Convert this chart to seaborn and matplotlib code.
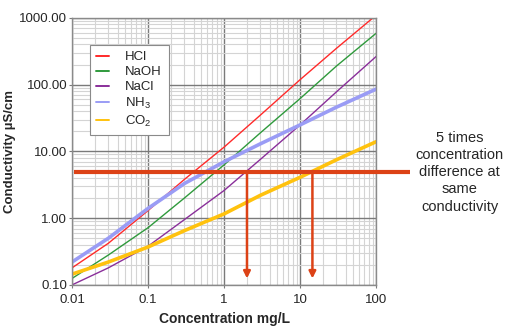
import matplotlib
matplotlib.use("Agg")
import matplotlib.pyplot as plt
import numpy as np
import pandas as pd
import seaborn as sns
from matplotlib.ticker import FixedLocator, FixedFormatter, LogLocator, NullFormatter

# concentration (mg/L) and conductivity (uS/cm)
conc = [0.01, 0.03, 0.1, 0.3, 1, 3, 10, 30, 100]
hcl = [0.18, 0.42, 1.3, 3.8, 11.6, 35, 119, 350, 1100]
naoh = [0.125, 0.28, 0.72, 2.0, 6.3, 19, 62, 190, 590]
nacl = [0.10, 0.18, 0.38, 0.95, 2.6, 7.6, 25, 78, 265]
nh3 = [0.22, 0.5, 1.4, 3.3, 7.0, 13, 25, 46, 86]
co2 = [0.145, 0.22, 0.37, 0.65, 1.16, 2.2, 4.1, 7.5, 14]

series_names = ["HCl", "NaOH", "NaCl", "NH$_3$", "CO$_2$"]
series_vals = [hcl, naoh, nacl, nh3, co2]
series_colors = ["#ff2a2a", "#2f9a3c", "#8a2f9a", "#9a9cf5", "#ffc20e"]
series_widths = [1.0, 1.0, 1.0, 2.6, 2.6]

# the annotation: equal conductivity, two concentrations
same_cond = 5.0
cond_line_x = [0.0105, 280]
arrow_x = [2.0, 14.5]
arrow_bottom = 0.125

x_ticks = [0.01, 0.1, 1, 10, 100]
x_labels = ["0.01", "0.1", "1", "10", "100"]
y_ticks = [0.1, 1, 10, 100, 1000]
y_labels = ["0.10", "1.00", "10.00", "100.00", "1000.00"]

sns.set_style("white")
plt.rcParams["font.family"] = ["Liberation Sans", "DejaVu Sans"]
plt.rcParams["mathtext.fontset"] = "custom"
plt.rcParams["mathtext.rm"] = "Liberation Sans"
plt.rcParams["mathtext.default"] = "regular"

fig = plt.figure(figsize=(5.07, 3.26), dpi=100)
ax = fig.add_axes([0.142, 0.126, 0.600, 0.819])

for name, vals, col, lw in zip(series_names, series_vals, series_colors, series_widths):
    df = pd.DataFrame({"conc": conc, "cond": vals})
    sns.lineplot(data=df, x="conc", y="cond", ax=ax, color=col, lw=lw, label=name)

ax.set_xscale("log")
ax.set_yscale("log")
ax.set_xlim(0.01, 100)
ax.set_ylim(0.1, 1000)

ax.xaxis.set_major_locator(FixedLocator(x_ticks))
ax.xaxis.set_major_formatter(FixedFormatter(x_labels))
ax.yaxis.set_major_locator(FixedLocator(y_ticks))
ax.yaxis.set_major_formatter(FixedFormatter(y_labels))
ax.xaxis.set_minor_locator(LogLocator(base=10, subs=np.arange(2, 10), numticks=20))
ax.yaxis.set_minor_locator(LogLocator(base=10, subs=np.arange(2, 10), numticks=20))
ax.xaxis.set_minor_formatter(NullFormatter())
ax.yaxis.set_minor_formatter(NullFormatter())

ax.grid(which="major", color="#7a7a7a", lw=1.0)
ax.grid(which="minor", color="#d4d4d4", lw=0.8)
ax.set_axisbelow(True)
ax.tick_params(which="major", direction="out", length=2.5, width=0.8, color="#7a7a7a",
               labelsize=9.5, pad=1, left=True, bottom=True)
ax.tick_params(axis="x", which="major", pad=4)
ax.tick_params(which="minor", length=0)
for sp in ax.spines.values():
    sp.set_color("#8a8a8a")
    sp.set_linewidth(1.0)

ax.set_xlabel("Concentration mg/L", fontsize=10, fontweight="bold", labelpad=4)
ax.set_ylabel("Conductivity µS/cm", fontsize=9.5, fontweight="bold", labelpad=2)

# horizontal line of equal conductivity and the arrows down to the x axis
line_col = "#dc4216"
ax.plot(cond_line_x, [same_cond, same_cond], color=line_col, lw=3.0, clip_on=False,
        solid_capstyle="butt", zorder=5)
for xa in arrow_x:
    ax.annotate("", xy=(xa, arrow_bottom), xytext=(xa, same_cond),
                arrowprops=dict(arrowstyle="-|>", color=line_col, lw=1.8,
                                mutation_scale=10, shrinkA=0, shrinkB=0), zorder=5)

fig.text(0.907, 0.472, "5 times\nconcentration\ndifference at\nsame\nconductivity",
         ha="center", va="center", fontsize=10.5, linespacing=1.3)

leg = ax.legend(loc="upper left", bbox_to_anchor=(0.058, 0.9), fontsize=9.5,
                handlelength=1.0, handletextpad=1.2, labelspacing=0.2,
                borderpad=0.5, fancybox=False, framealpha=1, edgecolor="#8a8a8a",
                borderaxespad=0)
leg.get_frame().set_linewidth(0.8)
for h in leg.get_lines():
    h.set_linewidth(1.4)

fig.savefig("out.png", dpi=100)
